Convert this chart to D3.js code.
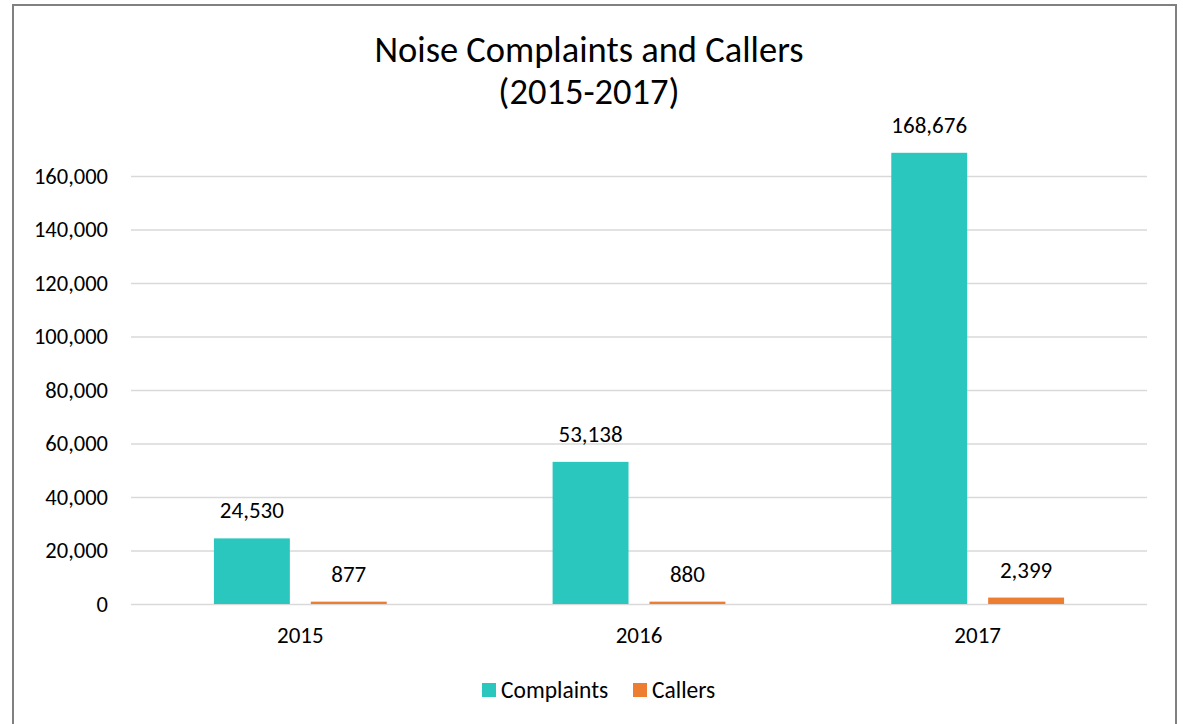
<!DOCTYPE html>
<html>
<head>
<meta charset="utf-8">
<script src="https://cdn.jsdelivr.net/npm/d3@7"></script>
<style>
  body { margin: 0; background: #fff; }
  svg { font-family: Carlito, Lato, "Open Sans", sans-serif; }
</style>
</head>
<body>
<svg id="chart" width="1183" height="724"></svg>
<script>
var years = ["2015", "2016", "2017"];
var complaints = [24530, 53138, 168676];
var callers = [877, 880, 2399];
var seriesNames = ["Complaints", "Callers"];
var colors = ["#29C7BE", "#ED7D31"];
var yTicks = [0, 20000, 40000, 60000, 80000, 100000, 120000, 140000, 160000];

var svg = d3.select("#chart"),
    margin = { top: 176, right: 36, bottom: 120, left: 131 },
    width = +svg.attr("width") - margin.left - margin.right,
    height = +svg.attr("height") - margin.top - margin.bottom;

// chart frame
svg.append("rect")
    .attr("x", 13).attr("y", 5)
    .attr("width", 1163).attr("height", 730)
    .attr("fill", "none")
    .attr("stroke", "#808080")
    .attr("stroke-width", 2);

var g = svg.append("g").attr("transform", "translate(" + margin.left + "," + margin.top + ")");

var x0 = d3.scaleBand().domain(years).range([0, width]);
var x1 = d3.scaleBand().domain(seriesNames).range([0, x0.bandwidth()]).paddingInner(0.2165).paddingOuter(0.856);
var y = d3.scaleLinear().domain([0, 160000]).range([height, 0]);

// gridlines
g.append("g")
    .call(d3.axisLeft(y).tickValues(yTicks).tickSize(-width).tickFormat(""))
    .call(function (a) { a.select(".domain").remove(); })
    .selectAll("line")
    .attr("stroke", "#d9d9d9")
    .attr("stroke-width", 1.5);

// y labels
var yAxis = g.append("g")
    .call(d3.axisLeft(y).tickValues(yTicks).tickSize(0).tickPadding(23).tickFormat(d3.format(",")))
    .attr("font-family", null).attr("font-size", null);
yAxis.select(".domain").remove();
yAxis.selectAll("text").style("font-size", "22.5px").attr("fill", "#000");

// x labels
var xAxis = g.append("g")
    .attr("transform", "translate(0," + height + ")")
    .call(d3.axisBottom(x0).tickSize(0).tickPadding(23))
    .attr("font-family", null).attr("font-size", null);
xAxis.select(".domain").remove();
xAxis.selectAll("text").style("font-size", "23px").attr("fill", "#000");

var rows = years.map(function (yr, i) {
    return { year: yr, values: [complaints[i], callers[i]] };
});

var groups = g.selectAll(".grp")
    .data(rows)
    .enter().append("g")
    .attr("class", "grp")
    .attr("transform", function (d) { return "translate(" + x0(d.year) + ",0)"; });

groups.selectAll("rect")
    .data(function (d) { return d.values.map(function (v, j) { return { name: seriesNames[j], value: v, c: colors[j] }; }); })
    .enter().append("rect")
    .attr("x", function (d) { return x1(d.name); })
    .attr("width", x1.bandwidth())
    .attr("y", function (d) { return y(d.value); })
    .attr("height", function (d) { return height - y(d.value); })
    .attr("fill", function (d) { return d.c; });

groups.selectAll(".lbl")
    .data(function (d) { return d.values.map(function (v, j) { return { name: seriesNames[j], value: v }; }); })
    .enter().append("text")
    .attr("class", "lbl")
    .attr("x", function (d) { return x1(d.name) + x1.bandwidth() / 2; })
    .attr("y", function (d) { return y(d.value) - 20; })
    .attr("text-anchor", "middle")
    .style("font-size", "23px")
    .text(function (d) { return d3.format(",")(d.value); });

// title
svg.append("text")
    .attr("x", 589).attr("y", 62)
    .attr("text-anchor", "middle")
    .style("font-size", "36.5px")
    .text("Noise Complaints and Callers");
svg.append("text")
    .attr("x", 589).attr("y", 104)
    .attr("text-anchor", "middle")
    .style("font-size", "36.5px")
    .text("(2015-2017)");

// legend
var legend = svg.append("g").attr("transform", "translate(482,683)");
var lx = [0, 151];
seriesNames.forEach(function (n, i) {
    legend.append("rect")
        .attr("x", lx[i]).attr("y", 0)
        .attr("width", 14).attr("height", 14)
        .attr("fill", colors[i]);
    legend.append("text")
        .attr("x", lx[i] + 19).attr("y", 15)
        .style("font-size", "23.5px")
        .text(n);
});
</script>
</body>
</html>
